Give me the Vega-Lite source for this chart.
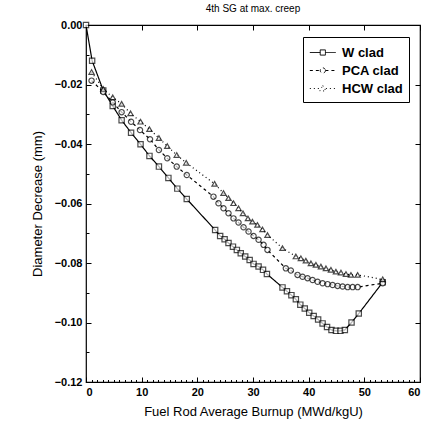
{
  "$schema": "https://vega.github.io/schema/vega-lite/v6.json",
  "width": 334,
  "height": 357,
  "autosize": "none",
  "padding": {"left": 86, "top": 25, "right": 10, "bottom": 51},
  "background": "white",
  "config": {
    "font": "Liberation Sans",
    "view": {"stroke": "black", "strokeWidth": 1.2}
  },
  "title": {"text": "4th SG at max. creep", "fontSize": 10, "fontWeight": "normal", "color": "black", "offset": 5, "font": "Liberation Sans"},
  "data": {
    "values": [
      {"s": "W clad", "x": 0, "y": 0},
      {"s": "W clad", "x": 1.1, "y": -0.012},
      {"s": "W clad", "x": 3.1, "y": -0.022},
      {"s": "W clad", "x": 4.8, "y": -0.0272},
      {"s": "W clad", "x": 6.4, "y": -0.032},
      {"s": "W clad", "x": 8.1, "y": -0.0362},
      {"s": "W clad", "x": 9.8, "y": -0.0401},
      {"s": "W clad", "x": 11.4, "y": -0.044},
      {"s": "W clad", "x": 13.1, "y": -0.0476},
      {"s": "W clad", "x": 14.8, "y": -0.0514},
      {"s": "W clad", "x": 16.4, "y": -0.055},
      {"s": "W clad", "x": 18.1, "y": -0.0585},
      {"s": "W clad", "x": 23.2, "y": -0.0689},
      {"s": "W clad", "x": 24.1, "y": -0.0709},
      {"s": "W clad", "x": 24.9, "y": -0.072},
      {"s": "W clad", "x": 25.6, "y": -0.0733},
      {"s": "W clad", "x": 26.4, "y": -0.0745},
      {"s": "W clad", "x": 27.1, "y": -0.0756},
      {"s": "W clad", "x": 27.8, "y": -0.0767},
      {"s": "W clad", "x": 28.6, "y": -0.0778},
      {"s": "W clad", "x": 29.4, "y": -0.079},
      {"s": "W clad", "x": 30.1, "y": -0.0803},
      {"s": "W clad", "x": 31.0, "y": -0.0812},
      {"s": "W clad", "x": 31.8, "y": -0.0823},
      {"s": "W clad", "x": 32.5, "y": -0.0837},
      {"s": "W clad", "x": 35.3, "y": -0.0882},
      {"s": "W clad", "x": 36.1, "y": -0.0895},
      {"s": "W clad", "x": 36.9, "y": -0.0908},
      {"s": "W clad", "x": 37.7, "y": -0.0922},
      {"s": "W clad", "x": 38.5, "y": -0.094},
      {"s": "W clad", "x": 39.3, "y": -0.0953},
      {"s": "W clad", "x": 40.1, "y": -0.0967},
      {"s": "W clad", "x": 40.9, "y": -0.0978},
      {"s": "W clad", "x": 41.7, "y": -0.099},
      {"s": "W clad", "x": 42.5, "y": -0.1003},
      {"s": "W clad", "x": 43.3, "y": -0.1015},
      {"s": "W clad", "x": 44.1, "y": -0.1025},
      {"s": "W clad", "x": 44.9, "y": -0.1028},
      {"s": "W clad", "x": 45.7, "y": -0.1028},
      {"s": "W clad", "x": 46.5, "y": -0.1025},
      {"s": "W clad", "x": 47.7, "y": -0.1},
      {"s": "W clad", "x": 49.0, "y": -0.097},
      {"s": "W clad", "x": 53.3, "y": -0.0865},
      {"s": "PCA clad", "x": 1.0, "y": -0.0187},
      {"s": "PCA clad", "x": 3.1, "y": -0.0225},
      {"s": "PCA clad", "x": 4.8, "y": -0.026},
      {"s": "PCA clad", "x": 6.4, "y": -0.0293},
      {"s": "PCA clad", "x": 8.1, "y": -0.0325},
      {"s": "PCA clad", "x": 9.7, "y": -0.0353},
      {"s": "PCA clad", "x": 11.5, "y": -0.0384},
      {"s": "PCA clad", "x": 13.1, "y": -0.042},
      {"s": "PCA clad", "x": 14.6, "y": -0.0448},
      {"s": "PCA clad", "x": 16.3, "y": -0.0476},
      {"s": "PCA clad", "x": 18.1, "y": -0.0504},
      {"s": "PCA clad", "x": 22.9, "y": -0.0577},
      {"s": "PCA clad", "x": 23.8, "y": -0.0599},
      {"s": "PCA clad", "x": 24.7, "y": -0.0616},
      {"s": "PCA clad", "x": 25.6, "y": -0.0633},
      {"s": "PCA clad", "x": 26.5, "y": -0.065},
      {"s": "PCA clad", "x": 27.4, "y": -0.0664},
      {"s": "PCA clad", "x": 28.3, "y": -0.068},
      {"s": "PCA clad", "x": 29.2, "y": -0.0694},
      {"s": "PCA clad", "x": 30.1, "y": -0.0709},
      {"s": "PCA clad", "x": 31.0, "y": -0.0722},
      {"s": "PCA clad", "x": 31.9, "y": -0.0739},
      {"s": "PCA clad", "x": 32.6, "y": -0.0756},
      {"s": "PCA clad", "x": 35.9, "y": -0.0818},
      {"s": "PCA clad", "x": 36.8, "y": -0.0825},
      {"s": "PCA clad", "x": 38.0, "y": -0.084},
      {"s": "PCA clad", "x": 38.9, "y": -0.0846},
      {"s": "PCA clad", "x": 39.8, "y": -0.0851},
      {"s": "PCA clad", "x": 40.7, "y": -0.0857},
      {"s": "PCA clad", "x": 41.6, "y": -0.0863},
      {"s": "PCA clad", "x": 42.5, "y": -0.0868},
      {"s": "PCA clad", "x": 43.4, "y": -0.0871},
      {"s": "PCA clad", "x": 44.3, "y": -0.0874},
      {"s": "PCA clad", "x": 45.2, "y": -0.0877},
      {"s": "PCA clad", "x": 46.1, "y": -0.0879},
      {"s": "PCA clad", "x": 47.0, "y": -0.0881},
      {"s": "PCA clad", "x": 47.9, "y": -0.0881},
      {"s": "PCA clad", "x": 48.8, "y": -0.0881},
      {"s": "PCA clad", "x": 53.3, "y": -0.0868},
      {"s": "HCW clad", "x": 1.0, "y": -0.0158},
      {"s": "HCW clad", "x": 3.1, "y": -0.0215},
      {"s": "HCW clad", "x": 4.8, "y": -0.0243},
      {"s": "HCW clad", "x": 6.4, "y": -0.0265},
      {"s": "HCW clad", "x": 8.0, "y": -0.0297},
      {"s": "HCW clad", "x": 9.8, "y": -0.0325},
      {"s": "HCW clad", "x": 11.4, "y": -0.035},
      {"s": "HCW clad", "x": 13.1, "y": -0.038},
      {"s": "HCW clad", "x": 14.6, "y": -0.0407},
      {"s": "HCW clad", "x": 16.3, "y": -0.0437},
      {"s": "HCW clad", "x": 18.0, "y": -0.0463},
      {"s": "HCW clad", "x": 23.1, "y": -0.0534},
      {"s": "HCW clad", "x": 24.7, "y": -0.0565},
      {"s": "HCW clad", "x": 25.6, "y": -0.0582},
      {"s": "HCW clad", "x": 26.5, "y": -0.0599},
      {"s": "HCW clad", "x": 27.4, "y": -0.0616},
      {"s": "HCW clad", "x": 28.2, "y": -0.0633},
      {"s": "HCW clad", "x": 29.1, "y": -0.065},
      {"s": "HCW clad", "x": 29.9, "y": -0.0661},
      {"s": "HCW clad", "x": 30.8, "y": -0.0672},
      {"s": "HCW clad", "x": 31.7, "y": -0.0687},
      {"s": "HCW clad", "x": 32.6, "y": -0.0706},
      {"s": "HCW clad", "x": 35.3, "y": -0.075},
      {"s": "HCW clad", "x": 37.7, "y": -0.0778},
      {"s": "HCW clad", "x": 38.6, "y": -0.0784},
      {"s": "HCW clad", "x": 39.5, "y": -0.0792},
      {"s": "HCW clad", "x": 40.4, "y": -0.0801},
      {"s": "HCW clad", "x": 41.3, "y": -0.0806},
      {"s": "HCW clad", "x": 42.2, "y": -0.0812},
      {"s": "HCW clad", "x": 43.1, "y": -0.0818},
      {"s": "HCW clad", "x": 44.0, "y": -0.0823},
      {"s": "HCW clad", "x": 44.9, "y": -0.0829},
      {"s": "HCW clad", "x": 45.8, "y": -0.0832},
      {"s": "HCW clad", "x": 46.7, "y": -0.0837},
      {"s": "HCW clad", "x": 47.6, "y": -0.084},
      {"s": "HCW clad", "x": 48.8, "y": -0.084},
      {"s": "HCW clad", "x": 53.3, "y": -0.0855}
    ]
  },
  "resolve": {"axis": {"x": "independent", "y": "independent"}},
  "layer": [
    {
      "mark": {"type": "line", "color": "black", "strokeWidth": 1.2},
      "encoding": {
        "x": {
          "field": "x", "type": "quantitative",
          "scale": {"domain": [0, 60], "nice": false, "zero": false},
          "axis": {"title": "Fuel Rod Average Burnup (MWd/kgU)", "values": [0, 10, 20, 30, 40, 50, 60], "grid": false, "domain": false, "tickSize": -5, "tickColor": "black", "labelPadding": 9, "labelFontSize": 11, "labelFontWeight": "bold", "labelColor": "black", "titleFontSize": 13, "titleFontWeight": "normal", "titleColor": "black", "titlePadding": 8}
        },
        "y": {
          "field": "y", "type": "quantitative",
          "scale": {"domain": [-0.12, 0], "nice": false, "zero": false},
          "axis": {"title": "Diameter Decrease (mm)", "values": [0, -0.02, -0.04, -0.06, -0.08, -0.1, -0.12], "format": ".2f", "grid": false, "domain": false, "tickSize": -5, "tickColor": "black", "labelPadding": 9, "labelFontSize": 11, "labelFontWeight": "bold", "labelColor": "black", "titleFontSize": 13, "titleFontWeight": "normal", "titleColor": "black", "titlePadding": 10}
        },
        "detail": {"field": "s"},
        "strokeDash": {
          "field": "s", "type": "nominal",
          "scale": {"domain": ["W clad", "PCA clad", "HCW clad"], "range": [[1, 0], [3, 3], [1, 3]]},
          "legend": {
            "title": null, "orient": "none", "legendX": 217, "legendY": 12,
            "strokeColor": "black", "padding": 6, "labelFontSize": 13, "labelFontWeight": "bold", "labelColor": "black",
            "symbolSize": 300, "symbolStrokeColor": "black", "symbolStrokeWidth": 1, "rowPadding": 1, "labelOffset": 14,
            "encode": {
              "symbols": {
                "update": {
                  "shape": {"signal": "datum.value === 'W clad' ? 'M-1,0H0.2M0.8,0H2M0.2,-0.3H0.8V0.3H0.2Z' : datum.value === 'PCA clad' ? 'M-1,0H0.2M0.8,0H2M0.8,0A0.3,0.3 0 1,1 0.2,0A0.3,0.3 0 1,1 0.8,0' : 'M-1,0H0.15M0.85,0H2M0.5,-0.35L0.85,0.28H0.15Z'"},
                  "fill": {"value": "transparent"},
                  "stroke": {"value": "black"}
                }
              }
            }
          }
        }
      }
    },
    {
      "transform": [{"filter": "datum.s === 'W clad'"}],
      "mark": {"type": "point", "shape": "square", "filled": false, "color": "black", "size": 28, "strokeWidth": 1.2, "fill": "white"},
      "encoding": {
        "x": {"field": "x", "type": "quantitative", "axis": null},
        "y": {"field": "y", "type": "quantitative", "axis": null}
      }
    },
    {
      "transform": [{"filter": "datum.s === 'PCA clad'"}],
      "mark": {"type": "point", "shape": "circle", "filled": false, "color": "black", "size": 28, "strokeWidth": 1.2, "fill": "white"},
      "encoding": {
        "x": {"field": "x", "type": "quantitative", "axis": null},
        "y": {"field": "y", "type": "quantitative", "axis": null}
      }
    },
    {
      "transform": [{"filter": "datum.s === 'HCW clad'"}],
      "mark": {"type": "point", "shape": "triangle-up", "filled": false, "color": "black", "size": 28, "strokeWidth": 1.2, "fill": "white"},
      "encoding": {
        "x": {"field": "x", "type": "quantitative", "axis": null},
        "y": {"field": "y", "type": "quantitative", "axis": null}
      }
    },
    {
      "mark": {"type": "point", "opacity": 0},
      "encoding": {
        "x": {"field": "x", "type": "quantitative", "axis": {"orient": "top", "title": null, "labels": false, "values": [0, 10, 20, 30, 40, 50, 60], "grid": false, "domain": false, "tickSize": -5, "tickColor": "black"}},
        "y": {"field": "y", "type": "quantitative", "axis": {"orient": "right", "title": null, "labels": false, "values": [0, -0.02, -0.04, -0.06, -0.08, -0.1, -0.12], "grid": false, "domain": false, "tickSize": -5, "tickColor": "black"}}
      }
    },
    {
      "mark": {"type": "point", "opacity": 0},
      "encoding": {
        "x": {"field": "x", "type": "quantitative", "axis": {"orient": "bottom", "title": null, "labels": false, "values": [1,2,3,4,5,6,7,8,9,11,12,13,14,15,16,17,18,19,21,22,23,24,25,26,27,28,29,31,32,33,34,35,36,37,38,39,41,42,43,44,45,46,47,48,49,51,52,53,54,55,56,57,58,59], "grid": false, "domain": false, "tickSize": -2.5, "tickColor": "black"}},
        "y": {"field": "y", "type": "quantitative", "axis": {"orient": "left", "title": null, "labels": false, "values": [-0.01, -0.03, -0.05, -0.07, -0.09, -0.11], "grid": false, "domain": false, "tickSize": -3, "tickColor": "black"}}
      }
    }
  ]
}
